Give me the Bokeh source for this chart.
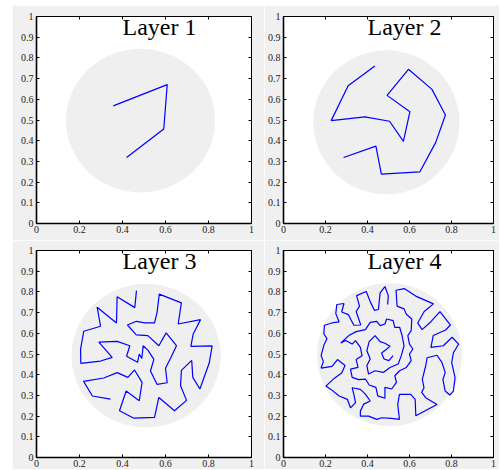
from bokeh.plotting import figure
from bokeh.models import Range1d, LinearAxis, FixedTicker
from bokeh.layouts import column, row
from bokeh.embed import file_html
from bokeh.resources import INLINE
from bokeh.core.properties import value

titles = ["Layer 1", "Layer 2", "Layer 3", "Layer 4"]
x_ticks = [0, 0.2, 0.4, 0.6, 0.8, 1]
x_tick_labels = ["0", "0.2", "0.4", "0.6", "0.8", "1"]
y_ticks = [0, 0.1, 0.2, 0.3, 0.4, 0.5, 0.6, 0.7, 0.8, 0.9, 1]
y_tick_labels = ["0", "0.1", "0.2", "0.3", "0.4", "0.5", "0.6", "0.7", "0.8", "0.9", "1"]

disk_cx = [0.484, 0.490, 0.510, 0.505]
disk_cy = [0.497, 0.489, 0.492, 0.497]
disk_r = [0.347, 0.348, 0.347, 0.345]

layer1_x = [0.357, 0.608, 0.592, 0.419]
layer1_y = [0.568, 0.671, 0.457, 0.319]

layer2_x = [0.435, 0.308, 0.227, 0.388, 0.505, 0.571, 0.602, 0.493, 0.595, 0.707,
            0.771, 0.725, 0.649, 0.466, 0.440, 0.286]
layer2_y = [0.761, 0.665, 0.497, 0.515, 0.494, 0.397, 0.540, 0.619, 0.745, 0.648,
            0.524, 0.392, 0.249, 0.239, 0.374, 0.319]

layer3_x = [0.465, 0.457, 0.375, 0.372, 0.282, 0.298, 0.220, 0.205, 0.206, 0.298,
            0.352, 0.290, 0.375, 0.434, 0.419, 0.470, 0.478, 0.490, 0.496, 0.518,
            0.546, 0.530, 0.561, 0.608, 0.600, 0.628, 0.651, 0.603, 0.569, 0.518,
            0.464, 0.423, 0.465, 0.504, 0.549, 0.561, 0.571, 0.674, 0.659, 0.763,
            0.729, 0.718, 0.817, 0.803, 0.760, 0.727, 0.722, 0.674, 0.670, 0.698,
            0.642, 0.569, 0.549, 0.453, 0.386, 0.417, 0.478, 0.491, 0.456, 0.425,
            0.375, 0.313, 0.219, 0.260, 0.344]
layer3_y = [0.806, 0.724, 0.777, 0.650, 0.726, 0.634, 0.610, 0.524, 0.455, 0.466,
            0.484, 0.557, 0.561, 0.540, 0.489, 0.460, 0.500, 0.479, 0.540, 0.519,
            0.474, 0.418, 0.353, 0.361, 0.431, 0.489, 0.540, 0.602, 0.540, 0.589,
            0.592, 0.640, 0.658, 0.650, 0.650, 0.702, 0.789, 0.747, 0.645, 0.666,
            0.597, 0.537, 0.539, 0.455, 0.331, 0.387, 0.469, 0.421, 0.347, 0.276,
            0.226, 0.290, 0.194, 0.190, 0.226, 0.321, 0.274, 0.363, 0.423, 0.387,
            0.410, 0.384, 0.368, 0.297, 0.282]

layer4_x = [0.496, 0.499, 0.483, 0.460, 0.452, 0.433, 0.413, 0.394, 0.348, 0.362,
            0.346, 0.368, 0.335, 0.309, 0.277, 0.288, 0.254, 0.249, 0.265, 0.238,
            0.195, 0.192, 0.207, 0.192, 0.179, 0.190, 0.179, 0.231, 0.257, 0.293,
            0.277, 0.241, 0.202, 0.226, 0.265, 0.304, 0.319, 0.343, 0.335, 0.327,
            0.366, 0.390, 0.413, 0.382, 0.366, 0.366, 0.405, 0.444, 0.468, 0.514,
            0.552, 0.544, 0.552, 0.606, 0.627, 0.630, 0.731, 0.677, 0.658, 0.669,
            0.661, 0.677, 0.684, 0.731, 0.755, 0.770, 0.759, 0.770, 0.792, 0.809,
            0.817, 0.801, 0.809, 0.834, 0.803, 0.761, 0.702, 0.713, 0.772, 0.795,
            0.745, 0.702, 0.660, 0.639, 0.670, 0.714, 0.635, 0.575, 0.536,
            0.541, 0.574, 0.585, 0.611, 0.608, 0.592, 0.600, 0.616, 0.600, 0.608,
            0.585, 0.553, 0.530, 0.538, 0.515, 0.483, 0.483, 0.449, 0.440, 0.408,
            0.390, 0.358, 0.327, 0.319, 0.355, 0.346, 0.374, 0.366, 0.343, 0.327,
            0.296, 0.273, 0.311, 0.346, 0.390, 0.413, 0.444, 0.460, 0.483, 0.491,
            0.522, 0.530, 0.553, 0.564, 0.574, 0.561, 0.546, 0.507, 0.475, 0.436,
            0.405, 0.397, 0.413, 0.397, 0.408, 0.436, 0.460, 0.483, 0.507, 0.486,
            0.467, 0.479, 0.502, 0.522]
layer4_y = [0.739, 0.782, 0.826, 0.795, 0.715, 0.711, 0.753, 0.802, 0.782, 0.731,
            0.705, 0.640, 0.639, 0.690, 0.703, 0.744, 0.739, 0.695, 0.655, 0.652,
            0.639, 0.598, 0.574, 0.542, 0.492, 0.463, 0.432, 0.440, 0.473, 0.444,
            0.408, 0.382, 0.345, 0.329, 0.297, 0.281, 0.240, 0.265, 0.305, 0.337,
            0.329, 0.306, 0.273, 0.258, 0.224, 0.200, 0.200, 0.184, 0.192, 0.189,
            0.184, 0.256, 0.305, 0.305, 0.281, 0.202, 0.256, 0.289, 0.315, 0.337,
            0.377, 0.442, 0.482, 0.494, 0.458, 0.410, 0.377, 0.321, 0.302, 0.321,
            0.386, 0.458, 0.506, 0.548, 0.581, 0.540, 0.532, 0.589, 0.616, 0.640,
            0.705, 0.656, 0.618, 0.650, 0.705, 0.742, 0.777, 0.816, 0.808,
            0.731, 0.718, 0.692, 0.669, 0.613, 0.589, 0.548, 0.524, 0.500, 0.468,
            0.435, 0.419, 0.395, 0.363, 0.331, 0.339, 0.286, 0.298, 0.339, 0.350,
            0.379, 0.376, 0.387, 0.427, 0.435, 0.473, 0.492, 0.532, 0.565, 0.548,
            0.565, 0.553, 0.589, 0.608, 0.618, 0.653, 0.658, 0.637, 0.645, 0.669,
            0.661, 0.629, 0.629, 0.592, 0.540, 0.492, 0.452, 0.435, 0.411, 0.419,
            0.403, 0.444, 0.476, 0.516, 0.560, 0.589, 0.560, 0.552, 0.537, 0.519,
            0.505, 0.476, 0.468, 0.492]

paths_x = [layer1_x, layer2_x, layer3_x, layer4_x]
paths_y = [layer1_y, layer2_y, layer3_y, layer4_y]

BG = "#f0f0f0"
SERIF = "Liberation Serif"


def style_axis(ax, ticks, labels, show_labels, thick):
    ax.ticker = FixedTicker(ticks=ticks)
    ax.major_tick_in = 3
    ax.major_tick_out = 0
    ax.minor_tick_line_color = None
    ax.major_tick_line_color = "black"
    ax.major_tick_line_width = 1
    ax.axis_line_color = "black"
    ax.axis_line_width = 1.6 if thick else 1
    if show_labels:
        ax.major_label_overrides = dict(zip(ticks, labels))
        ax.major_label_text_font = SERIF
        ax.major_label_text_font_size = "10px"
        ax.major_label_text_color = "#222222"
        ax.major_label_standoff = 3
    else:
        ax.major_label_text_font_size = "1px"
        ax.major_label_text_color = None
        ax.major_label_standoff = 0


def make_panel(i, width, height, bl, br, bt, bb):
    p = figure(width=width, height=height, x_range=Range1d(0, 1), y_range=Range1d(0, 1),
               output_backend="svg", toolbar_location=None,
               min_border_left=bl, min_border_right=br, min_border_top=bt, min_border_bottom=bb,
               border_fill_color=BG, background_fill_color="white",
               outline_line_color="black", outline_line_width=1)
    p.grid.visible = False
    style_axis(p.xaxis[0], x_ticks, x_tick_labels, True, True)
    style_axis(p.yaxis[0], y_ticks, y_tick_labels, True, True)
    p.xaxis[0].major_label_standoff = 2
    top = LinearAxis()
    style_axis(top, x_ticks, x_tick_labels, False, False)
    p.add_layout(top, "above")
    right = LinearAxis()
    style_axis(right, y_ticks, y_tick_labels, False, False)
    p.add_layout(right, "right")

    p.ellipse(x=[disk_cx[i]], y=[disk_cy[i]], width=[2 * disk_r[i]], height=[2 * disk_r[i]],
              fill_color="#efefef", line_color=None)
    p.line(paths_x[i], paths_y[i], line_color="#0000ff", line_width=1.2)
    p.text(x=[0.40], y=[0.948], text=[titles[i]], text_font=value(SERIF),
           text_font_size="24px", text_color="black", text_align="left",
           text_baseline="alphabetic")
    return p


p1 = make_panel(0, 252, 235, 24, 13, 11, 17)
p2 = make_panel(1, 235, 235, 16, 6, 11, 17)
p3 = make_panel(2, 252, 229, 24, 13, 10, 12)
p4 = make_panel(3, 235, 229, 16, 6, 10, 12)

layout = column(row(p1, p2), row(p3, p4), margin=(5, 0, 0, 12))

with open("out.html", "w") as f:
    f.write(file_html(layout, INLINE))
